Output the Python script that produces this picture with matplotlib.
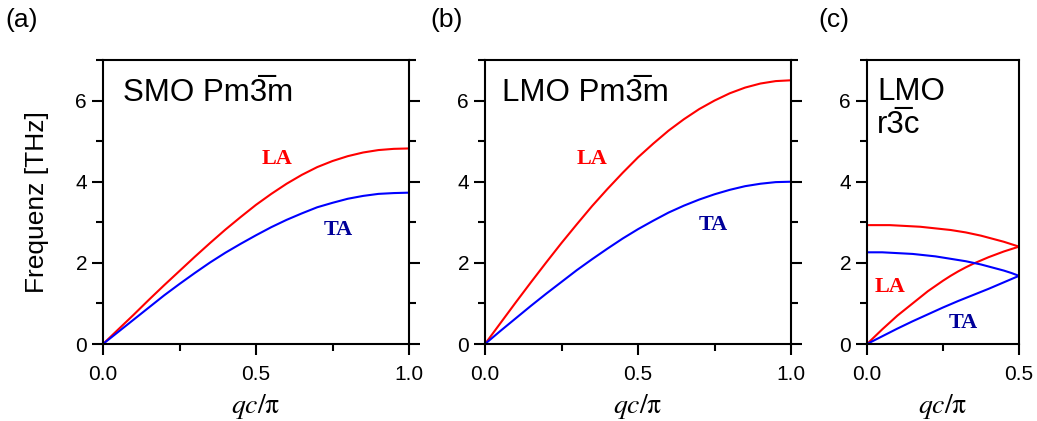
import numpy as np
import matplotlib
matplotlib.use("Agg")
import matplotlib.pyplot as plt
from matplotlib.ticker import MultipleLocator, FormatStrFormatter

plt.rcParams['font.family'] = ['Liberation Sans', 'DejaVu Sans']

# dispersion data, q in units of pi/c
q_full = np.linspace(0, 1.0, 21)
smo_la = [0, 0.36, 0.72, 1.09, 1.45, 1.80, 2.15, 2.49, 2.82, 3.13, 3.43,
          3.70, 3.95, 4.17, 4.36, 4.51, 4.63, 4.72, 4.78, 4.81, 4.82]
smo_ta = [0, 0.30, 0.60, 0.90, 1.20, 1.48, 1.75, 2.01, 2.25, 2.47, 2.68,
          2.88, 3.06, 3.22, 3.37, 3.48, 3.58, 3.65, 3.70, 3.72, 3.73]
lmo_la = [0, 0.51, 1.02, 1.52, 2.01, 2.49, 2.95, 3.40, 3.82, 4.22, 4.60,
          4.94, 5.26, 5.54, 5.79, 6.00, 6.18, 6.32, 6.42, 6.48, 6.50]
lmo_ta = [0, 0.32, 0.63, 0.94, 1.24, 1.53, 1.82, 2.09, 2.35, 2.60, 2.83,
          3.04, 3.24, 3.41, 3.56, 3.69, 3.80, 3.89, 3.95, 3.99, 4.00]

q_half = np.linspace(0, 0.5, 21)
r3c_la_lo = [0, 0.18, 0.36, 0.53, 0.70, 0.85, 1.00, 1.15, 1.30, 1.43, 1.56,
             1.68, 1.79, 1.89, 1.98, 2.06, 2.14, 2.21, 2.28, 2.34, 2.40]
r3c_la_hi = [2.93, 2.93, 2.93, 2.93, 2.92, 2.91, 2.90, 2.89, 2.87, 2.85, 2.83,
             2.81, 2.78, 2.75, 2.71, 2.67, 2.62, 2.57, 2.52, 2.46, 2.40]
r3c_ta_lo = [0, 0.095, 0.19, 0.285, 0.38, 0.47, 0.56, 0.645, 0.73, 0.815, 0.90,
             0.98, 1.06, 1.135, 1.21, 1.285, 1.36, 1.44, 1.52, 1.60, 1.68]
r3c_ta_hi = [2.26, 2.26, 2.26, 2.25, 2.24, 2.23, 2.22, 2.20, 2.18, 2.16, 2.13,
             2.10, 2.07, 2.04, 2.00, 1.96, 1.91, 1.86, 1.81, 1.75, 1.68]

red = '#ff0000'
blue = '#0000ff'
tcol = '#000099'
bar3 = '3\u0305'

fig = plt.figure(figsize=(10.37, 4.21), dpi=100)
H = 284 / 421
B = 77 / 421
ax1 = fig.add_axes([103 / 1037, B, 306 / 1037, H])
ax2 = fig.add_axes([485 / 1037, B, 306 / 1037, H])
ax3 = fig.add_axes([867 / 1037, B, 152 / 1037, H])


def style(ax, xmax, right_ticks=True):
    ax.set_xlim(0, xmax)
    ax.set_ylim(0, 7)
    ax.xaxis.set_major_locator(MultipleLocator(0.5))
    ax.xaxis.set_minor_locator(MultipleLocator(0.25))
    ax.yaxis.set_major_locator(MultipleLocator(2))
    ax.yaxis.set_minor_locator(MultipleLocator(1))
    ax.xaxis.set_major_formatter(FormatStrFormatter('%.1f'))
    ax.tick_params(which='both', direction='out', width=1.5, labelsize=15,
                   top=False, right=right_ticks, labelright=False)
    ax.tick_params(which='major', length=8)
    ax.tick_params(which='minor', length=5)
    ax.tick_params(axis='x', pad=7)
    for s in ax.spines.values():
        s.set_linewidth(1.5)
    ax.set_xlabel(r'$qc/\mathrm{\pi}$', math_fontfamily='stix', fontsize=20, labelpad=6)


serif = dict(family='Liberation Serif', fontweight='bold', fontsize=16)
title_kw = dict(fontsize=22.5, va='center')

ax1.plot(q_full, smo_la, color=red, lw=1.5)
ax1.plot(q_full, smo_ta, color=blue, lw=1.5)
style(ax1, 1.0)
ax1.text(0.065, 0.885, 'SMO Pm' + bar3 + 'm', transform=ax1.transAxes, **title_kw)
ax1.text(0.57, 4.55, 'LA', color=red, ha='center', va='center', **serif)
ax1.text(0.77, 2.8, 'TA', color=tcol, ha='center', va='center', **serif)
ax1.set_ylabel('Frequenz [THz]', fontsize=19, labelpad=19)

ax2.plot(q_full, lmo_la, color=red, lw=1.5)
ax2.plot(q_full, lmo_ta, color=blue, lw=1.5)
style(ax2, 1.0)
ax2.text(0.055, 0.885, 'LMO Pm' + bar3 + 'm', transform=ax2.transAxes, **title_kw)
ax2.text(0.35, 4.55, 'LA', color=red, ha='center', va='center', **serif)
ax2.text(0.745, 2.93, 'TA', color=tcol, ha='center', va='center', **serif)

ax3.plot(q_half, r3c_la_lo, color=red, lw=1.5)
ax3.plot(q_half, r3c_la_hi, color=red, lw=1.5)
ax3.plot(q_half, r3c_ta_lo, color=blue, lw=1.5)
ax3.plot(q_half, r3c_ta_hi, color=blue, lw=1.5)
style(ax3, 0.5, right_ticks=False)
ax3.text(0.065, 0.83, 'LMO\nr' + bar3 + 'c', transform=ax3.transAxes,
         linespacing=1.15, **title_kw)
ax3.text(0.076, 1.4, 'LA', color=red, ha='center', va='center', **serif)
ax3.text(0.316, 0.52, 'TA', color=tcol, ha='center', va='center', **serif)

fig.text(5 / 1037, 1 - 20 / 421, '(a)', fontsize=19, va='center')
fig.text(430 / 1037, 1 - 20 / 421, '(b)', fontsize=19, va='center')
fig.text(818 / 1037, 1 - 20 / 421, '(c)', fontsize=19, va='center')

fig.savefig('out.png', dpi=100)
